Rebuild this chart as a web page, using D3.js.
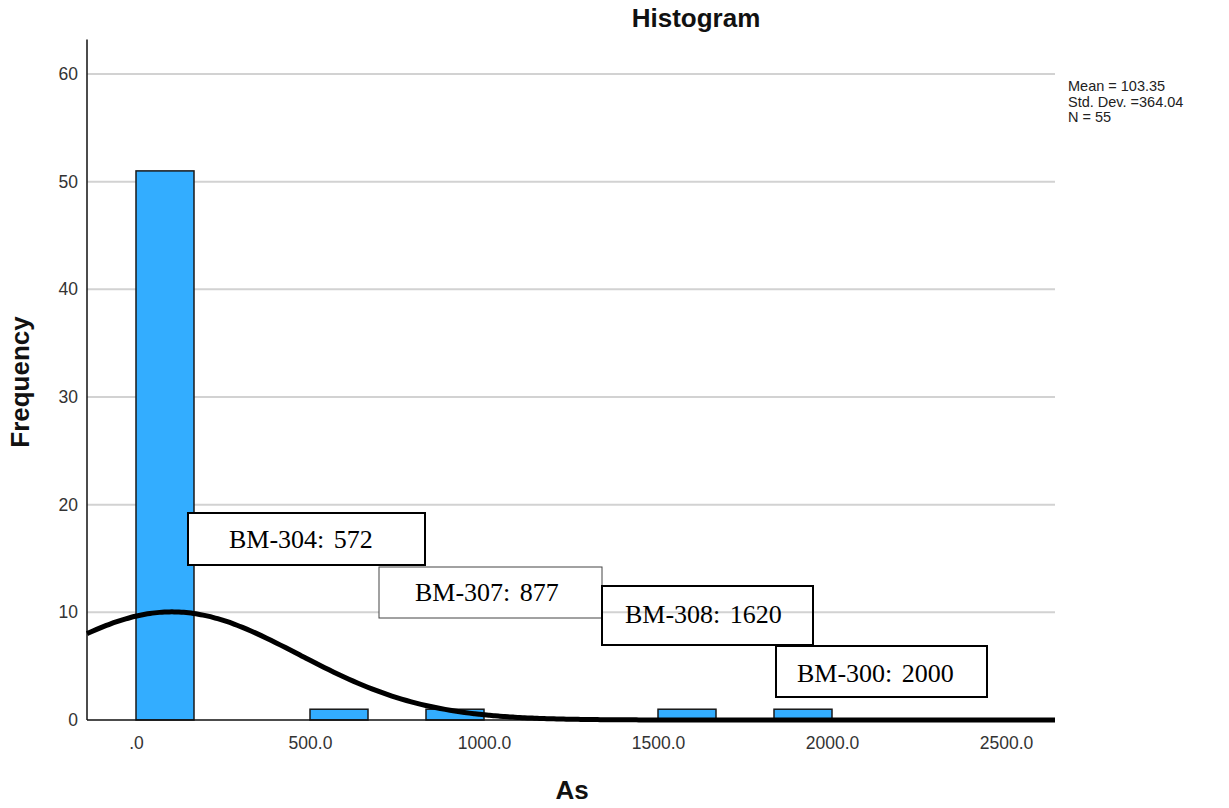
<!DOCTYPE html>
<html>
<head>
<meta charset="utf-8">
<script src="https://cdn.jsdelivr.net/npm/d3@7"></script>
<style>
  body { margin: 0; background: #fff; }
  svg { display: block; }
</style>
</head>
<body>
<svg id="chart" width="1229" height="808"></svg>
<script>
// Histogram of As (SPSS style) with fitted normal curve

var binLower = [0, 500, 833.33, 1500, 1833.33];
var binUpper = [166.67, 666.67, 1000, 1666.67, 2000];
var frequencies = [51, 1, 1, 1, 1];

var xTicks = [0, 500, 1000, 1500, 2000, 2500];
var yTicks = [0, 10, 20, 30, 40, 50, 60];

var mean = 103.35;
var stdDev = 364.04;
var count = 55;
var binWidth = 166.67;

var statLines = ['Mean = 103.35', 'Std. Dev. =364.04', 'N = 55'];

var noteLabels = ['BM-304: 572', 'BM-307: 877', 'BM-308: 1620', 'BM-300: 2000'];
// box layout for each note (pixels)
var noteBoxes = [
  {x: 188, y: 513, w: 237, h: 52, tx: 229, ty: 548, stroke: '#000', sw: 2, fill: '#fff'},
  {x: 379, y: 567, w: 223, h: 51, tx: 415, ty: 601, stroke: '#444', sw: 1, fill: '#fff'},
  {x: 602, y: 586, w: 211, h: 59, tx: 625, ty: 623, stroke: '#000', sw: 2, fill: 'none'},
  {x: 776, y: 646, w: 211, h: 51, tx: 797, ty: 682, stroke: '#000', sw: 2, fill: '#fff'}
];

var svg = d3.select('#chart');
var sans = 'Arial, "Liberation Sans", sans-serif';

var x = d3.scaleLinear().domain([0, 2000]).range([136, 832]);
var y = d3.scaleLinear().domain([0, 60]).range([720, 74]);

var xLeft = 87, xRight = 1055;

// Grid lines
svg.append('g')
  .selectAll('line')
  .data(yTicks.filter(function(d) { return d > 0; }))
  .enter().append('line')
  .attr('x1', xLeft).attr('x2', xRight)
  .attr('y1', function(d) { return y(d); })
  .attr('y2', function(d) { return y(d); })
  .attr('stroke', '#d2d2d2')
  .attr('stroke-width', 2);

// Y axis
var yAxis = svg.append('g')
  .attr('transform', 'translate(' + xLeft + ',0)')
  .call(d3.axisLeft(y).tickValues(yTicks).tickSize(0).tickPadding(9));
yAxis.select('.domain').remove();
yAxis.selectAll('text')
  .attr('font-family', sans)
  .attr('font-size', 17.5)
  .attr('fill', '#333');

svg.append('line')
  .attr('x1', xLeft).attr('x2', xLeft)
  .attr('y1', y(63.2)).attr('y2', y(0))
  .attr('stroke', '#111')
  .attr('stroke-width', 1.5);

// X axis
var xAxis = svg.append('g')
  .attr('transform', 'translate(0,' + y(0) + ')')
  .call(d3.axisBottom(x).tickValues(xTicks).tickSize(0).tickPadding(17)
    .tickFormat(function(d) { return d === 0 ? '.0' : d3.format('.1f')(d); }));
xAxis.select('.domain').remove();
xAxis.selectAll('text')
  .attr('font-family', sans)
  .attr('font-size', 17.5)
  .attr('fill', '#333');

// Bars
svg.append('g')
  .selectAll('rect')
  .data(frequencies)
  .enter().append('rect')
  .attr('x', function(d, i) { return x(binLower[i]); })
  .attr('width', function(d, i) { return x(binUpper[i]) - x(binLower[i]); })
  .attr('y', function(d) { return y(d); })
  .attr('height', function(d) { return y(0) - y(d); })
  .attr('fill', '#33adff')
  .attr('stroke', '#1a1a1a')
  .attr('stroke-width', 1.5);

svg.append('line')
  .attr('x1', xLeft).attr('x2', xRight)
  .attr('y1', y(0)).attr('y2', y(0))
  .attr('stroke', '#111')
  .attr('stroke-width', 1.5);

// Fitted normal curve from mean, std dev and N
var lo = x.invert(xLeft), hi = x.invert(xRight);
var curvePts = d3.range(0, 201).map(function(i) {
  var v = lo + (hi - lo) * i / 200;
  var z = (v - mean) / stdDev;
  return {v: v, f: count * binWidth * Math.exp(-0.5 * z * z) / (stdDev * Math.sqrt(2 * Math.PI))};
});
var line = d3.line()
  .x(function(d) { return x(d.v); })
  .y(function(d) { return y(d.f); })
  .curve(d3.curveBasis);
svg.append('path')
  .datum(curvePts)
  .attr('fill', 'none')
  .attr('stroke', '#000')
  .attr('stroke-width', 5)
  .attr('d', line);

// Notes
var notes = svg.append('g').selectAll('g')
  .data(noteLabels)
  .enter().append('g');
notes.append('rect')
  .attr('x', function(d, i) { return noteBoxes[i].x; })
  .attr('y', function(d, i) { return noteBoxes[i].y; })
  .attr('width', function(d, i) { return noteBoxes[i].w; })
  .attr('height', function(d, i) { return noteBoxes[i].h; })
  .attr('fill', function(d, i) { return noteBoxes[i].fill; })
  .attr('stroke', function(d, i) { return noteBoxes[i].stroke; })
  .attr('stroke-width', function(d, i) { return noteBoxes[i].sw; });
notes.append('text')
  .attr('x', function(d, i) { return noteBoxes[i].tx; })
  .attr('y', function(d, i) { return noteBoxes[i].ty; })
  .attr('font-family', '"Times New Roman", "Liberation Serif", serif')
  .attr('font-size', 26)
  .attr('word-spacing', 3)
  .attr('fill', '#000')
  .text(function(d) { return d; });

// Titles
svg.append('text')
  .attr('x', 696).attr('y', 27)
  .attr('text-anchor', 'middle')
  .attr('font-family', sans).attr('font-weight', 'bold').attr('font-size', 26)
  .attr('fill', '#111')
  .text('Histogram');

svg.append('text')
  .attr('x', 572).attr('y', 799)
  .attr('text-anchor', 'middle')
  .attr('font-family', sans).attr('font-weight', 'bold').attr('font-size', 26)
  .attr('fill', '#111')
  .text('As');

svg.append('text')
  .attr('transform', 'translate(29,382) rotate(-90)')
  .attr('text-anchor', 'middle')
  .attr('font-family', sans).attr('font-weight', 'bold').attr('font-size', 26)
  .attr('fill', '#111')
  .text('Frequency');

// Stats legend
svg.append('g')
  .selectAll('text')
  .data(statLines)
  .enter().append('text')
  .attr('x', 1068)
  .attr('y', function(d, i) { return 91 + i * 15.5; })
  .attr('font-family', sans)
  .attr('font-size', 14.5)
  .attr('fill', '#222')
  .text(function(d) { return d; });
</script>
</body>
</html>
